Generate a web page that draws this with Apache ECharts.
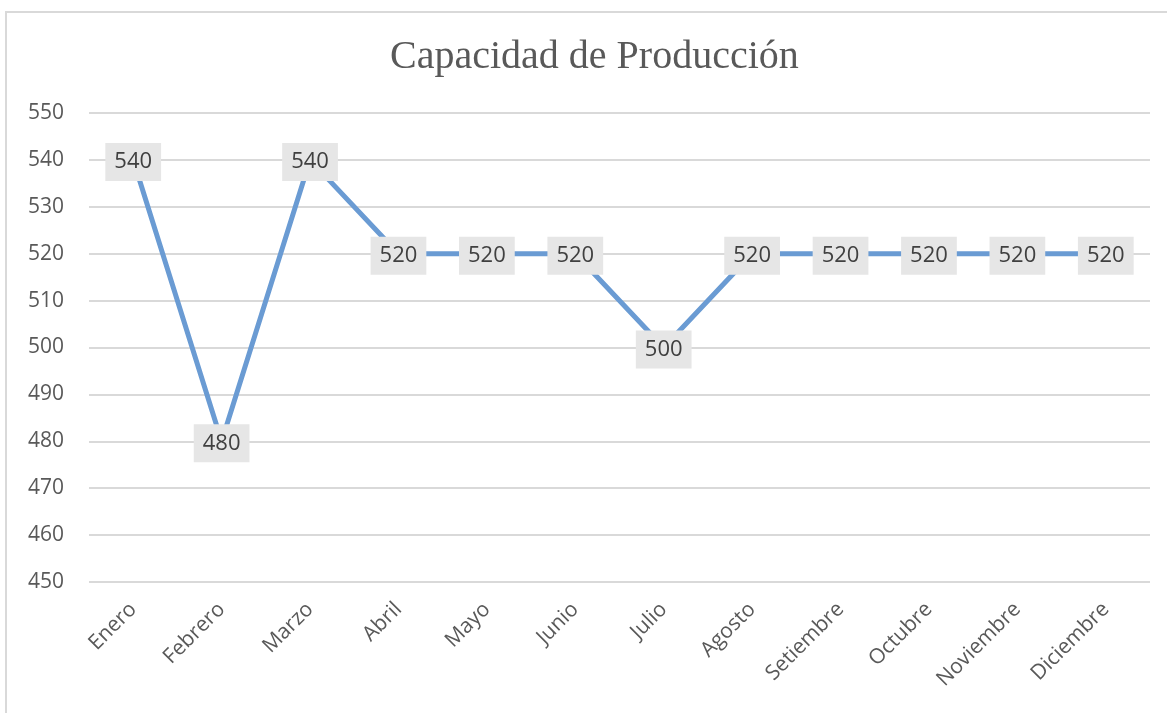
<!DOCTYPE html>
<html lang="es">
<head>
    <meta charset="UTF-8">
    <title>Capacidad de Producción</title>
    <style>
        html, body { margin: 0; padding: 0; background: #fff; }
        #container { width: 1167px; height: 713px; }
    </style>
</head>
<body>
    <div id="container"></div>
    <script type="text/javascript" src="https://cdn.jsdelivr.net/npm/echarts@6/dist/echarts.min.js"></script>
    <script type="text/javascript">
        // datos
        const meses = ['Enero', 'Febrero', 'Marzo', 'Abril', 'Mayo', 'Junio', 'Julio',
            'Agosto', 'Setiembre', 'Octubre', 'Noviembre', 'Diciembre'];
        const capacidad = [540, 480, 540, 520, 520, 520, 500, 520, 520, 520, 520, 520];
        const yMin = 450, yMax = 550, yStep = 10;

        const fuente = '"Open Sans", "Noto Sans", sans-serif';
        const azul = '#6a9bd3';

        const option = {
            animation: false,
            backgroundColor: '#fff',
            title: {
                text: 'Capacidad de Producción',
                left: 385,
                top: 32,
                textStyle: {
                    fontFamily: '"Liberation Serif", "DejaVu Serif", serif',
                    fontSize: 40,
                    fontWeight: 'normal',
                    color: '#595959'
                }
            },
            graphic: [{
                type: 'rect',
                shape: { x: 6, y: 12, width: 1170, height: 720 },
                style: { fill: 'none', stroke: '#d9d9d9', lineWidth: 2 },
                silent: true
            }],
            grid: { left: 89, right: 17, top: 113, bottom: 131 },
            xAxis: {
                type: 'category',
                data: meses,
                boundaryGap: true,
                axisLine: { show: false },
                axisTick: { show: false },
                axisLabel: {
                    rotate: 45,
                    margin: 24,
                    fontFamily: fuente,
                    fontSize: 21,
                    color: '#595959'
                }
            },
            yAxis: {
                type: 'value',
                min: yMin,
                max: yMax,
                interval: yStep,
                axisLine: { show: false },
                axisTick: { show: false },
                splitLine: { lineStyle: { color: '#d9d9d9', width: 2 } },
                axisLabel: {
                    margin: 25,
                    fontFamily: fuente,
                    fontSize: 21,
                    color: '#595959'
                }
            },
            series: [{
                type: 'line',
                data: capacidad,
                showSymbol: true,
                symbol: 'circle',
                symbolSize: 2,
                itemStyle: { color: azul },
                lineStyle: { color: azul, width: 5 },
                label: {
                    show: true,
                    position: 'inside',
                    offset: [0, 2],
                    fontFamily: fuente,
                    fontSize: 22,
                    color: '#404040',
                    backgroundColor: '#e6e6e6',
                    padding: [8, 9, 8, 9]
                }
            }]
        };

        const chart = echarts.init(document.getElementById('container'));
        chart.setOption(option);
    </script>
</body>
</html>
